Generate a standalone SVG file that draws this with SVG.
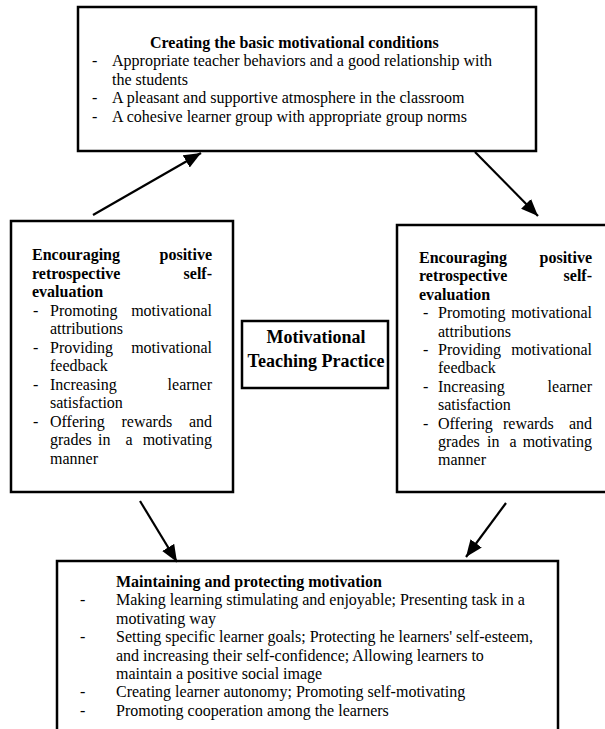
<svg xmlns="http://www.w3.org/2000/svg" width="605" height="729" viewBox="0 0 605 729">
<defs>
<style>
.box{fill:#fff;stroke:#000;stroke-width:2.5}
.t{font-family:"Liberation Serif","Times New Roman",serif;font-size:16px;fill:#000}
.b{font-weight:bold}
.e{text-anchor:end}
.c{font-family:"Liberation Serif","Times New Roman",serif;font-size:18px;font-weight:bold;fill:#000;text-anchor:middle}
.conn{stroke:#000;stroke-width:2.2;fill:none;marker-end:url(#ah)}
</style>
<marker id="ah" markerUnits="userSpaceOnUse" markerWidth="18" markerHeight="14" refX="17" refY="7" orient="auto">
<path d="M0,0 L17,7 L0,14 z" fill="#000"/>
</marker>
</defs>
<rect width="605" height="729" fill="#fff"/>

<g id="top">
<rect class="box" x="78" y="7" width="458" height="144"/>
<text class="t b" x="150" y="48">Creating the basic motivational conditions</text>
<text class="t" x="92" y="66.4">-</text>
<text class="t" x="112" y="66.4">Appropriate teacher behaviors and a good relationship with</text>
<text class="t" x="112" y="84.8">the students</text>
<text class="t" x="92" y="103.2">-</text>
<text class="t" x="112" y="103.2">A pleasant and supportive atmosphere in the classroom</text>
<text class="t" x="92" y="121.6">-</text>
<text class="t" x="112" y="121.6">A cohesive learner group with appropriate group norms</text>
</g>

<g id="left">
<rect class="box" x="11" y="221" width="222" height="271"/>
<text class="t b" x="32" y="260">Encouraging</text><text class="t b e" x="212" y="260">positive</text>
<text class="t b" x="32" y="278.5">retrospective</text><text class="t b e" x="212" y="278.5">self-</text>
<text class="t b" x="32" y="297">evaluation</text>
<text class="t" x="33" y="315.5">-</text>
<text class="t" x="50" y="315.5">Promoting</text><text class="t e" x="212" y="315.5">motivational</text>
<text class="t" x="50" y="334">attributions</text>
<text class="t" x="33" y="352.5">-</text>
<text class="t" x="50" y="352.5">Providing</text><text class="t e" x="212" y="352.5">motivational</text>
<text class="t" x="50" y="371">feedback</text>
<text class="t" x="33" y="389.5">-</text>
<text class="t" x="50" y="389.5">Increasing</text><text class="t e" x="212" y="389.5">learner</text>
<text class="t" x="50" y="408">satisfaction</text>
<text class="t" x="33" y="426.5">-</text>
<text class="t" x="50" y="426.5">Offering</text><text class="t" x="121.5" y="426.5">rewards</text><text class="t e" x="212" y="426.5">and</text>
<text class="t" x="50" y="445">grades</text><text class="t" x="98" y="445">in</text><text class="t" x="125.5" y="445">a</text><text class="t e" x="212" y="445">motivating</text>
<text class="t" x="50" y="463.5">manner</text>
</g>

<g id="center">
<rect class="box" x="242" y="321" width="146" height="67"/>
<text class="c" x="316" y="343">Motivational</text>
<text class="c" x="316" y="367">Teaching Practice</text>
</g>

<g id="right">
<rect class="box" x="397" y="225" width="215" height="267"/>
<text class="t b" x="419" y="263">Encouraging</text><text class="t b e" x="592" y="263">positive</text>
<text class="t b" x="419" y="281.4">retrospective</text><text class="t b e" x="592" y="281.4">self-</text>
<text class="t b" x="419" y="299.8">evaluation</text>
<text class="t" x="423" y="318.2">-</text>
<text class="t" x="438" y="318.2">Promoting</text><text class="t e" x="592" y="318.2">motivational</text>
<text class="t" x="438" y="336.6">attributions</text>
<text class="t" x="423" y="355">-</text>
<text class="t" x="438" y="355">Providing</text><text class="t e" x="592" y="355">motivational</text>
<text class="t" x="438" y="373.4">feedback</text>
<text class="t" x="423" y="391.8">-</text>
<text class="t" x="438" y="391.8">Increasing</text><text class="t e" x="592" y="391.8">learner</text>
<text class="t" x="438" y="410.2">satisfaction</text>
<text class="t" x="423" y="428.6">-</text>
<text class="t" x="438" y="428.6">Offering</text><text class="t" x="503" y="428.6">rewards</text><text class="t e" x="592" y="428.6">and</text>
<text class="t" x="438" y="447">grades</text><text class="t" x="487" y="447">in</text><text class="t" x="509.5" y="447">a</text><text class="t e" x="592" y="447">motivating</text>
<text class="t" x="438" y="465.4">manner</text>
</g>

<g id="bottom">
<rect class="box" x="57" y="561" width="501" height="190"/>
<text class="t b" x="116" y="587">Maintaining and protecting motivation</text>
<text class="t" x="80" y="605.4">-</text>
<text class="t" x="116" y="605.4">Making learning stimulating and enjoyable; Presenting task in a</text>
<text class="t" x="116" y="623.8">motivating way</text>
<text class="t" x="80" y="642.2">-</text>
<text class="t" x="116" y="642.2">Setting specific learner goals; Protecting he learners' self-esteem,</text>
<text class="t" x="116" y="660.6">and increasing their self-confidence; Allowing learners to</text>
<text class="t" x="116" y="679">maintain a positive social image</text>
<text class="t" x="80" y="697.4">-</text>
<text class="t" x="116" y="697.4">Creating learner autonomy; Promoting self-motivating</text>
<text class="t" x="80" y="715.8">-</text>
<text class="t" x="116" y="715.8">Promoting cooperation among the learners</text>
</g>

<g id="connectors">
<line class="conn" x1="93" y1="215" x2="201" y2="153"/>
<line class="conn" x1="475" y1="152" x2="538" y2="216"/>
<line class="conn" x1="140" y1="501" x2="177" y2="562"/>
<line class="conn" x1="506" y1="503" x2="466" y2="557"/>
</g>
</svg>
